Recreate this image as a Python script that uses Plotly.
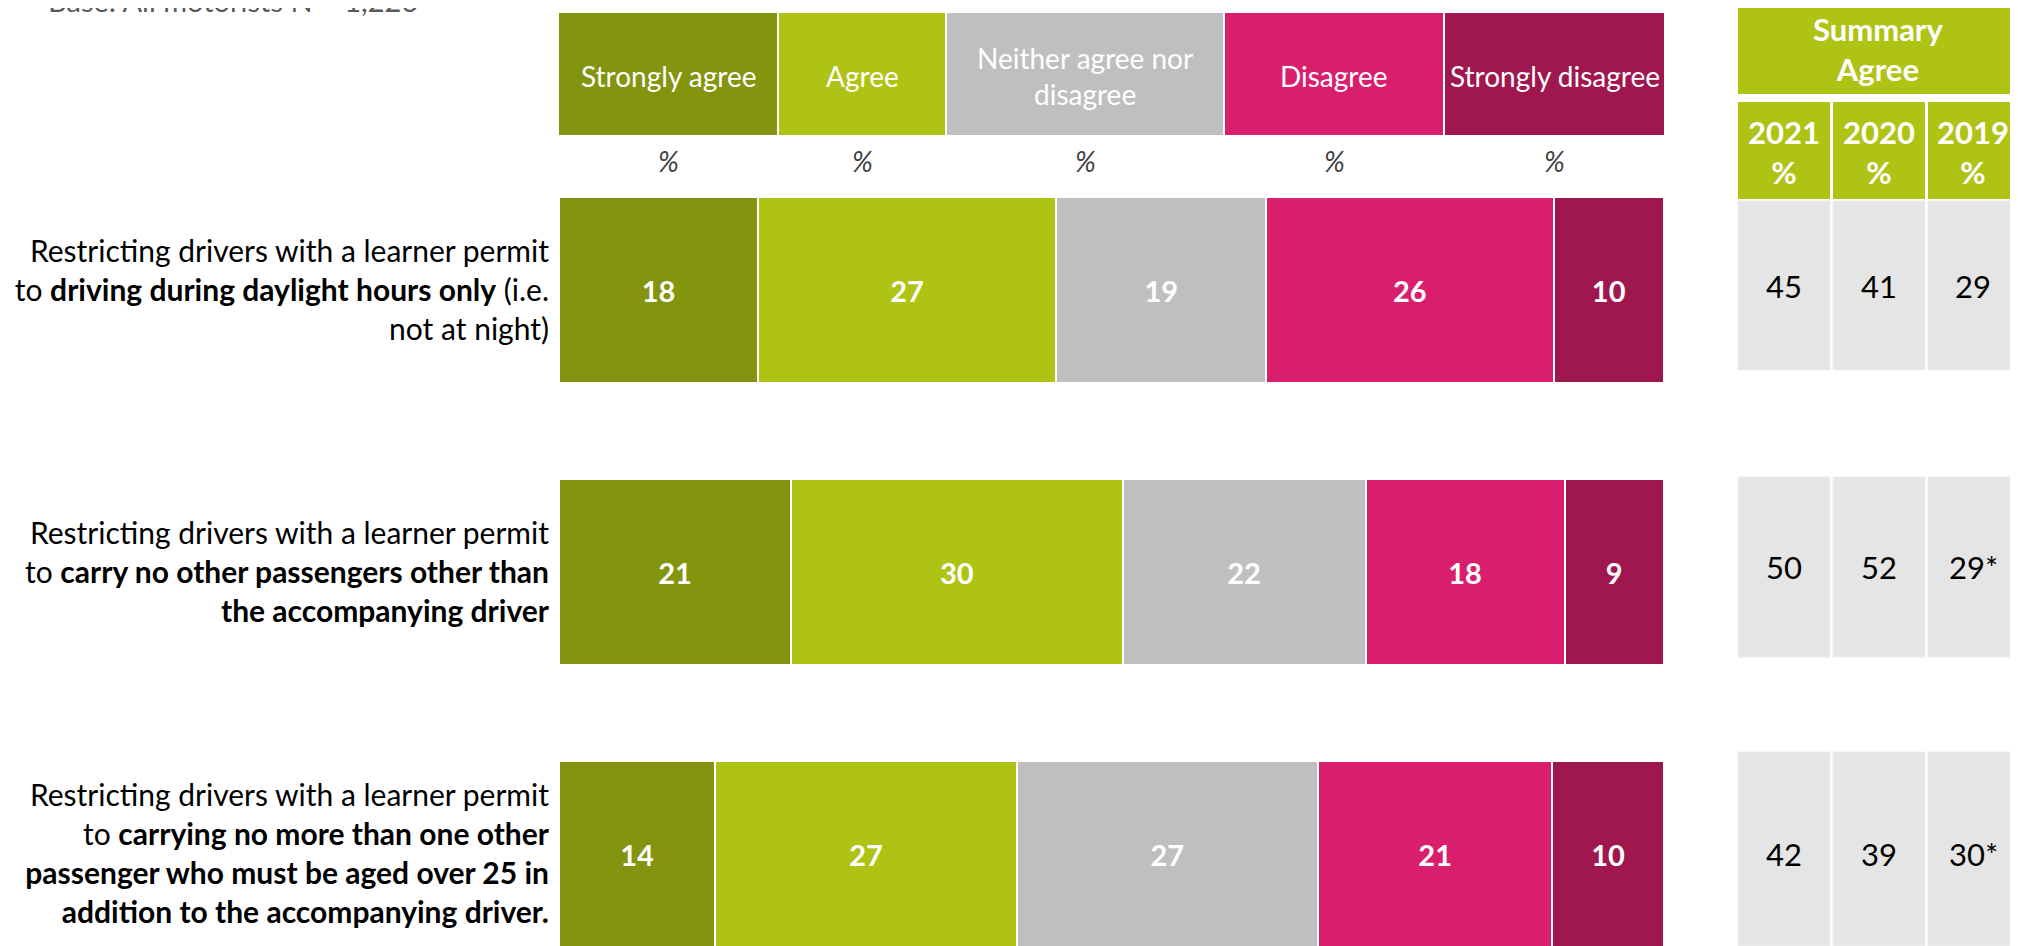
import plotly.graph_objects as go

# the page body adds an 8px margin, so the figure is drawn 8px smaller and
# all slide positions below are given in page pixels and shifted by OFF
PAGE_W, PAGE_H = 2018, 946
OFF = 8
W, H = PAGE_W - OFF, PAGE_H - OFF

# survey statements (bold parts as in the slide)
statements = [
    "Restricting drivers with a learner permit<br>to <b>driving during daylight hours only</b> (i.e.<br>not at night)",
    "Restricting drivers with a learner permit<br>to <b>carry no other passengers other than</b><br><b>the accompanying driver</b>",
    "Restricting drivers with a learner permit<br>to <b>carrying no more than one other</b><br><b>passenger who must be aged over 25 in</b><br><b>addition to the accompanying driver.</b>",
]

responses = ["Strongly agree", "Agree", "Neither agree nor<br>disagree", "Disagree", "Strongly disagree"]
colors = ["#83940F", "#AFC314", "#BFBFBF", "#D81E6D", "#A0174F"]

strongly_agree = [18, 21, 14]
agree = [27, 30, 27]
neither = [19, 22, 27]
disagree = [26, 18, 21]
strongly_disagree = [10, 9, 10]

years = ["2021", "2020", "2019"]
agree_2021 = ["45", "50", "42"]
agree_2020 = ["41", "52", "39"]
agree_2019 = ["29", "29*", "30*"]

rows = [0, 1, 2]
series = [strongly_agree, agree, neither, disagree, strongly_disagree]


def px_x(x):
    return (x - OFF) / W


def px_y(y):
    return 1 - (y - OFF) / H


def label(x, y, text, size, color="white"):
    return dict(xref="paper", yref="paper", x=px_x(x), y=px_y(y), xanchor="center",
                yanchor="middle", text=text, showarrow=False,
                font=dict(color=color, size=size))


fig = go.Figure()
for name, vals, col in zip(responses, series, colors):
    fig.add_trace(go.Bar(
        y=rows, x=vals, orientation="h", name=name, width=0.66,
        marker=dict(color=col, line=dict(color="white", width=2)),
        text=vals, texttemplate="<b>%{text}</b>", textposition="inside",
        insidetextanchor="middle", textangle=0, constraintext="none",
        textfont=dict(color="white", size=29, family="Lato"),
        hoverinfo="skip",
    ))

shapes = []
annotations = []

# response header boxes
head_x = [(559, 777), (779, 945), (947, 1223), (1225, 1443), (1445, 1664)]
for (x0, x1), name, col in zip(head_x, responses, colors):
    shapes.append(dict(type="rect", xref="paper", yref="paper", x0=px_x(x0), x1=px_x(x1),
                       y0=px_y(135), y1=px_y(13), fillcolor=col, line=dict(width=0), layer="below"))
    annotations.append(label((x0 + x1) / 2, 76, name, 28))
    annotations.append(label((x0 + x1) / 2, 161, "<i>%</i>", 28, "#404040"))

# summary agree table
shapes.append(dict(type="rect", xref="paper", yref="paper", x0=px_x(1738), x1=1.0,
                   y0=px_y(94), y1=1.02, fillcolor="#AFC314", line=dict(width=0)))
annotations.append(label(1878, 49, "<b>Summary<br>Agree</b>", 31))

col_x = [(1738, 1830), (1833, 1925), (1928, 2018)]
row_y = [(201, 370), (477, 657), (752, 946)]
row_mid = [286, 567, 854]
table_cols = [agree_2021, agree_2020, agree_2019]
for (x0, x1), yr, vals in zip(col_x, years, table_cols):
    shapes.append(dict(type="rect", xref="paper", yref="paper", x0=px_x(x0), x1=px_x(x1),
                       y0=px_y(199), y1=px_y(102), fillcolor="#AFC314", line=dict(width=0)))
    annotations.append(label((x0 + x1) / 2, 152, "<b>" + yr + "<br>%</b>", 31))
    for (y0, y1), ym, v in zip(row_y, row_mid, vals):
        shapes.append(dict(type="rect", xref="paper", yref="paper", x0=px_x(x0), x1=px_x(x1),
                           y0=px_y(y1), y1=px_y(y0), fillcolor="#E5E5E5",
                           line=dict(width=1, color="#EDEDED")))
        annotations.append(label((x0 + x1) / 2, ym, v, 31, "black"))

# base note, cut off at the top of the slide
base = label(46, 0, "Base: All motorists N = 1,226", 29, "#595959")
base["xanchor"] = "left"
annotations.append(base)

# rows sit 282px apart, centred at page y = 290, 572, 854
row0, step = 290 - OFF, 282

fig.update_layout(
    width=W, height=H, barmode="stack", barnorm="percent",
    margin=dict(l=0, r=0, t=0, b=0, autoexpand=False),
    paper_bgcolor="white", plot_bgcolor="rgba(0,0,0,0)",
    showlegend=False,
    font=dict(family="Lato", color="black"),
    shapes=shapes, annotations=annotations,
    xaxis=dict(domain=[px_x(559), px_x(1664)], range=[0, 100], visible=False,
               fixedrange=True, automargin=False),
    yaxis=dict(range=[(H - row0) / step, -row0 / step], tickvals=rows, ticktext=statements,
               showgrid=False, zeroline=False, ticks="", ticklabelstandoff=9,
               automargin=False, tickfont=dict(size=30, color="black"), fixedrange=True),
)

fig.write_html("out.html")
